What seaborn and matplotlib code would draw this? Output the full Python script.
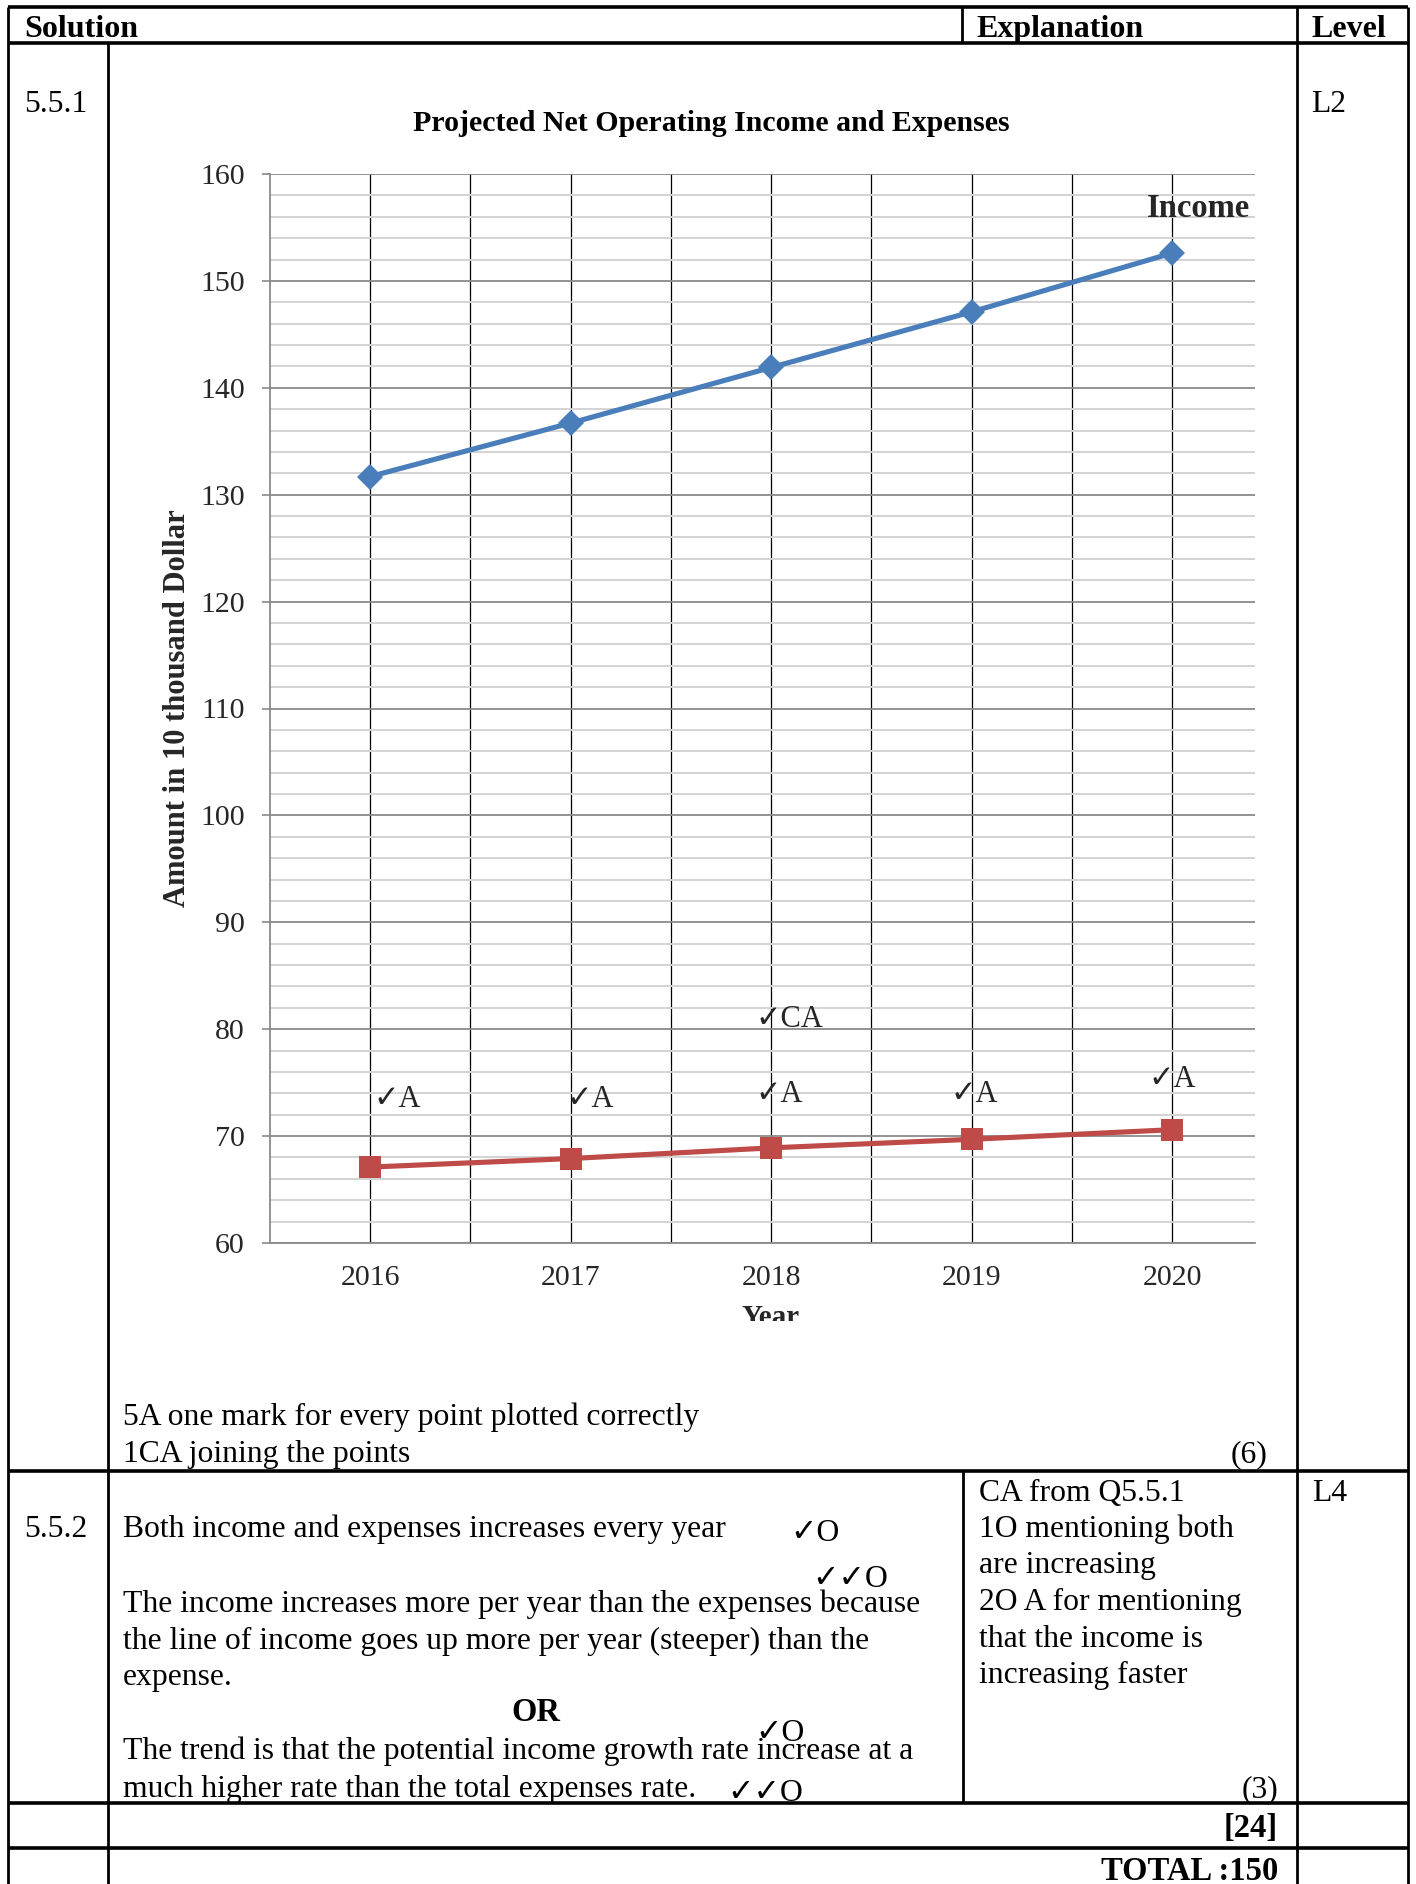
import matplotlib
matplotlib.use("Agg")
import matplotlib.pyplot as plt
import seaborn as sns
import pandas as pd
from matplotlib.transforms import Bbox, TransformedBbox

# ---------------- data ----------------
years = [2016, 2017, 2018, 2019, 2020]
income = [131.7, 136.7, 141.9, 147.1, 152.6]
expenses = [67.1, 67.9, 68.9, 69.7, 70.6]
y_ticks = [60, 70, 80, 90, 100, 110, 120, 130, 140, 150, 160]
mark_texts = ["✓A", "✓A", "✓A", "✓A", "✓A", "✓CA"]

chart_title = "Projected Net Operating Income and Expenses"
y_title = "Amount in 10 thousand Dollar"
x_title = "Year"

sns.set_theme(style="white")
plt.rcParams["font.family"] = ["Liberation Serif", "DejaVu Sans"]
plt.rcParams["mathtext.default"] = "regular"

W, H = 1416, 1884
fig = plt.figure(figsize=(W / 100, H / 100), dpi=100)
fig.patch.set_facecolor("white")

# ---------- background (table) axes in pixel coordinates ----------
bg = fig.add_axes([0, 0, 1, 1], zorder=0)
bg.set_xlim(0, W)
bg.set_ylim(H, 0)
bg.axis("off")

hl = 2.6
vl = 2.0
for y in [7, 43, 1471, 1803, 1848]:
    bg.plot([8, 1408], [y, y], color="black", lw=hl, solid_capstyle="butt")
for x, y0, y1 in [(8, 7, H), (108, 43, H), (962, 7, 43), (963, 1471, 1803),
                  (1297, 7, H), (1408, 7, H)]:
    bg.plot([x, x], [y0, y1], color="black", lw=vl, solid_capstyle="butt")

FS = 22.8


def t(x, y, s, ha="left", bold=False, size=FS, va="baseline"):
    bg.text(x, y, s, ha=ha, va=va, fontsize=size,
            fontweight="bold" if bold else "normal", color="black")


# header
t(24, 37, "Solution", bold=True, size=23)
t(976, 37, "Explanation", bold=True, size=23)
t(1311, 37, "Level", bold=True, size=23)

# row 1
t(24, 112, "5.5.1")
t(1311, 112, "L2")
t(711, 131, chart_title, ha="center", bold=True, size=21.5)
t(123, 1425, "5A one mark for every point plotted correctly")
t(123, 1462, "1CA joining the points")
t(1267, 1462, "(6)", ha="right")

# row 2
t(24, 1537, "5.5.2")
t(123, 1537, "Both income and expenses increases every year")
t(790, 1541, "✓O")
t(812, 1587, "✓✓O")
t(123, 1612, "The income increases more per year than the expenses because")
t(123, 1649, "the line of income goes up more per year (steeper) than the")
t(123, 1685, "expense.")
t(536, 1721, "OR", ha="center", bold=True, size=23.5)
t(755, 1741, "✓O")
t(123, 1759, "The trend is that the potential income growth rate increase at a")
t(123, 1797, "much higher rate than the total expenses rate.")
t(727, 1801, "✓✓O")

t(979, 1501, "CA from Q5.5.1")
t(979, 1537, "1O mentioning both")
t(979, 1573, "are increasing")
t(979, 1610, "2O A for mentioning")
t(979, 1647, "that the income is")
t(979, 1683, "increasing faster")
t(1278, 1797, "(3)", ha="right")
t(1312, 1501, "L4")

# rows 3, 4
t(1278, 1837, "[24]", ha="right", bold=True, size=23.5)
t(1278, 1880, "TOTAL :150", ha="right", bold=True, size=23.5)

# ---------------- chart ----------------
ax_l, ax_r, ax_t, ax_b = 270, 1255, 174, 1243
ax = fig.add_axes([ax_l / W, (H - ax_b) / H, (ax_r - ax_l) / W, (ax_b - ax_t) / H], zorder=1)
ax.set_facecolor("none")

df_inc = pd.DataFrame({"Year": years, "Amount": income})
df_exp = pd.DataFrame({"Year": years, "Amount": expenses})
blue = "#4A7EBB"
red = "#BE4B48"
sns.lineplot(data=df_inc, x="Year", y="Amount", ax=ax, color=blue, lw=3.7,
             marker="D", markersize=13.5, markeredgewidth=0, zorder=5)
sns.lineplot(data=df_exp, x="Year", y="Amount", ax=ax, color=red, lw=3.7,
             marker="s", markersize=16, markeredgewidth=0, zorder=5)

ax.set_ylim(60, 160)
ax.set_xlim(years[0] - 0.5, years[-1] + 0.414)
ax.set_yticks(y_ticks)
ax.set_yticks([v for v in range(60, 161, 2) if v % 10], minor=True)
ax.set_xticks(years)
ax.set_xticks([y + 0.5 for y in years[:-1]], minor=True)
ax.set_xticklabels([str(y) for y in years])

ax.set_axisbelow(True)
ax.grid(axis="y", which="minor", color="#d3d3d3", lw=1.4)
ax.grid(axis="y", which="major", color="#8a8a8a", lw=1.3)
ax.grid(axis="x", which="both", color="black", lw=0.9)

for s in ["top", "right"]:
    ax.spines[s].set_visible(False)
for s in ["left", "bottom"]:
    ax.spines[s].set_color("#8a8a8a")
    ax.spines[s].set_linewidth(1.3)

ax.tick_params(axis="y", which="major", direction="out", length=6, width=1.2,
               color="#8a8a8a", left=True, labelsize=21.5, pad=12)
ax.tick_params(axis="y", which="minor", length=0)
ax.tick_params(axis="x", which="both", length=0, labelsize=21.5, pad=16)

ax.set_ylabel(y_title, fontsize=22, fontweight="bold")
ax.yaxis.label.set_va("center")
ax.yaxis.set_label_coords((177 - ax_l) / (ax_r - ax_l), 0.5)

xl = ax.set_xlabel(x_title, fontsize=21, fontweight="bold")
ax.xaxis.set_label_coords((771 - ax_l) / (ax_r - ax_l), (ax_b - 1304) / (ax_b - ax_t))
clip = TransformedBbox(Bbox([[0, (H - 1321) / H], [1, 1]]), fig.transFigure)
xl.set_clip_box(clip)
xl.set_clip_on(True)

ax.text(years[-1] + 0.13, 156.8, "Income", ha="center", va="center",
        fontsize=23.5, fontweight="bold")

mark_dx = [0.015, -0.02, -0.08, -0.105, -0.12, -0.08]
mark_y = [73.4, 73.4, 73.9, 73.9, 75.25, 80.9]
mark_x = [years[0], years[1], years[2], years[3], years[4], years[2]]
for s, x, dx, y in zip(mark_texts, mark_x, mark_dx, mark_y):
    ax.text(x + dx, y, s, ha="left", va="center", fontsize=22, zorder=6)

fig.savefig("out.png", dpi=100, facecolor="white")
